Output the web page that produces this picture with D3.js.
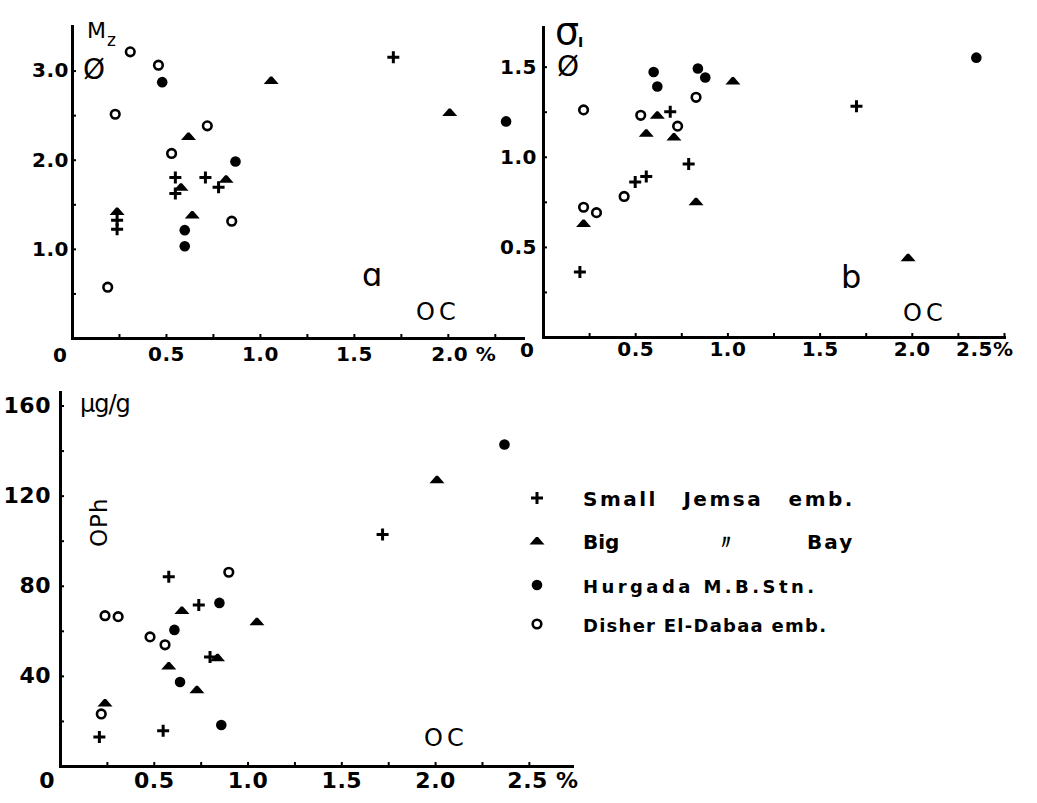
<!DOCTYPE html>
<html>
<head>
<meta charset="utf-8">
<script src="https://cdn.jsdelivr.net/npm/d3@7"></script>
<style>
  body { margin: 0; background: #fff; }
  svg { display: block; }
  text { font-family: "DejaVu Sans", sans-serif; fill: #000; }
</style>
</head>
<body>
<svg id="chart" width="1037" height="803"></svg>
<script>
// ---- data: [organic carbon %, value] ----
// panel a : Mz (phi)
const smallA = [[1.71, 3.15], [0.55, 1.80], [0.71, 1.80], [0.55, 1.62], [0.78, 1.69], [0.24, 1.32], [0.24, 1.22]];
const bigA = [[1.06, 2.89], [2.01, 2.53], [0.62, 2.26], [0.58, 1.69], [0.82, 1.78], [0.24, 1.42], [0.64, 1.38]];
const hurgA = [[0.48, 2.87], [2.31, 2.43], [0.87, 1.98], [0.60, 1.21], [0.60, 1.03]];
const dishA = [[0.31, 3.21], [0.46, 3.06], [0.23, 2.51], [0.72, 2.38], [0.53, 2.07], [0.85, 1.31], [0.19, 0.57]];
// panel b : sigma I (phi)
const smallB = [[0.69, 1.25], [0.79, 0.96], [0.56, 0.89], [0.50, 0.86], [0.20, 0.36], [1.70, 1.28]];
const bigB = [[1.03, 1.42], [0.62, 1.23], [0.56, 1.13], [0.71, 1.11], [0.83, 0.75], [0.22, 0.63], [1.98, 0.44]];
const hurgB = [[0.60, 1.47], [0.62, 1.39], [0.84, 1.49], [0.88, 1.44], [2.35, 1.55]];
const dishB = [[0.83, 1.33], [0.22, 1.26], [0.53, 1.23], [0.73, 1.17], [0.44, 0.78], [0.22, 0.72], [0.29, 0.69]];
// panel c : OPh (ug/g)
const smallC = [[0.58, 84], [0.74, 71.5], [0.80, 48.4], [0.21, 12.9], [0.55, 15.6], [1.72, 102.7]];
const bigC = [[0.65, 69], [1.05, 64], [0.84, 48], [0.58, 44.4], [0.73, 33.8], [0.24, 28], [2.01, 127]];
const hurgC = [[0.85, 72.4], [0.61, 60.4], [0.64, 37.3], [0.86, 18.2], [2.37, 142.7]];
const dishC = [[0.90, 86], [0.24, 66.7], [0.31, 66.3], [0.48, 57.3], [0.56, 53.8], [0.22, 23.1]];

// tick labels
const ocTicksA = [0.5, 1, 1.5, 2];
const ocLabelsA = ['0.5', '1.0', '1.5', '2.0 %'];
const ocTicksBC = [0.5, 1, 1.5, 2, 2.5];
const ocLabelsB = ['0.5', '1.0', '1.5', '2.0', '2.5%'];
const ocLabelsC = ['0.5', '1.0', '1.5', '2.0', '2.5 %'];
const mzTicks = [1, 2, 3];
const mzLabels = ['1.0', '2.0', '3.0'];
const sigTicks = [0.5, 1, 1.5];
const sigLabels = ['0.5', '1.0', '1.5'];
const ophTicks = [40, 80, 120, 160];
const ophLabels = ['40', '80', '120', '160'];

const seriesKeys = ['small', 'big', 'hurg', 'dish'];
const legendLabels = ['Small Jemsa emb.', 'Big', 'Hurgada M.B.Stn.', 'Disher El-Dabaa emb.'];

const svg = d3.select('#chart');

// marker drawers
const markers = {
  small: g => g.append('path').attr('d', 'M-6,0H6M0,-6V6').attr('stroke', '#000').attr('stroke-width', 3).attr('fill', 'none'),
  big: g => g.append('path').attr('d', 'M-7.5,3.5L-1,-4L1,-4L7.5,3.5Z').attr('fill', '#000'),
  hurg: g => g.append('circle').attr('r', 5.3).attr('fill', '#000'),
  dish: g => g.append('circle').attr('r', 4.3).attr('fill', 'none').attr('stroke', '#000').attr('stroke-width', 2.6)
};

function drawPoints(x, y, data, kind) {
  svg.append('g').attr('class', 'pts-' + kind)
    .selectAll('g')
    .data(data)
    .enter()
    .append('g')
    .attr('transform', d => `translate(${x(d[0])},${y(d[1])})`)
    .each(function () { markers[kind](d3.select(this)); });
}

function labelFormat(vals, labels) {
  return d => {
    const i = vals.findIndex(v => Math.abs(v - d) < 1e-9);
    return i < 0 ? '' : labels[i];
  };
}

function drawPanel(o) {
  const x = d3.scaleLinear().domain(o.xDomain).range(o.xRange);
  const y = d3.scaleLinear().domain(o.yDomain).range(o.yRange);

  const gx = svg.append('g')
    .attr('transform', `translate(0,${y(0)})`)
    .call(d3.axisBottom(x)
      .tickValues(o.xMinor)
      .tickSize(-4)
      .tickSizeOuter(0)
      .tickPadding(o.xPad)
      .tickFormat(labelFormat(o.xTicks, o.xLabels)));
  const gy = svg.append('g')
    .attr('transform', `translate(${x(0)},0)`)
    .call(d3.axisLeft(y)
      .tickValues(o.yMinor)
      .tickSize(-4)
      .tickSizeOuter(0)
      .tickPadding(o.yPad)
      .tickFormat(labelFormat(o.yTicks, o.yLabels)));

  [gx, gy].forEach(g => {
    g.attr('font-family', null).attr('font-size', null);
    g.select('.domain').attr('stroke-width', 3).attr('stroke-linecap', 'square');
    g.selectAll('.tick line').attr('stroke-width', 2);
    g.selectAll('.tick text')
      .style('font-family', '"DejaVu Sans", sans-serif')
      .style('font-size', o.fontSize + 'px')
      .style('font-weight', 'bold')
      .style('letter-spacing', '0.5px');
  });
  // the percent label is offset from its tick
  gx.selectAll('.tick text')
    .filter(function () { return this.textContent.indexOf('%') >= 0; })
    .attr('text-anchor', o.pctAnchor)
    .attr('x', o.pctDx);

  // origin label
  svg.append('text')
    .attr('x', o.zero[0]).attr('y', o.zero[1])
    .attr('text-anchor', 'middle')
    .style('font-size', o.fontSize + 'px')
    .style('font-weight', 'bold')
    .text('0');

  seriesKeys.forEach((k, i) => drawPoints(x, y, o.series[i], k));
  return { x, y };
}

// ---- panel a ----
drawPanel({
  xDomain: [0, 2.4], xRange: [72, 523],
  yDomain: [0, 3.5], yRange: [338, 26],
  xMinor: d3.range(0.25, 2.3, 0.25), xTicks: ocTicksA, xLabels: ocLabelsA, xPad: 9,
  yMinor: d3.range(0.5, 3.1, 0.5), yTicks: mzTicks, yLabels: mzLabels, yPad: 3,
  fontSize: 20, pctAnchor: 'start', pctDx: -17, zero: [60, 362],
  series: [smallA, bigA, hurgA, dishA]
});

// ---- panel b ----
drawPanel({
  xDomain: [0, 2.5], xRange: [543, 1004],
  yDomain: [0, 1.72], yRange: [337, 27],
  xMinor: d3.range(0.25, 2.6, 0.25), xTicks: ocTicksBC, xLabels: ocLabelsB, xPad: 5,
  yMinor: d3.range(0.25, 1.6, 0.25), yTicks: sigTicks, yLabels: sigLabels, yPad: 6,
  fontSize: 20, pctAnchor: 'end', pctDx: 9, zero: [527, 357],
  series: [smallB, bigB, hurgB, dishB]
});

// ---- panel c ----
drawPanel({
  xDomain: [0, 2.73], xRange: [60, 572],
  yDomain: [0, 166], yRange: [766, 392],
  xMinor: d3.range(0.25, 2.6, 0.25), xTicks: ocTicksBC, xLabels: ocLabelsC, xPad: 6,
  yMinor: d3.range(20, 161, 20), yTicks: ophTicks, yLabels: ophLabels, yPad: 9,
  fontSize: 22, pctAnchor: 'start', pctDx: -22, zero: [47, 788],
  series: [smallC, bigC, hurgC, dishC]
});

// ---- axis titles and panel letters ----
const t = (x, y, s, size, extra) => {
  const el = svg.append('text').attr('x', x).attr('y', y).style('font-size', size + 'px').text(s);
  if (extra) extra(el);
  return el;
};
t(87, 38, 'M', 22);
t(107, 46, 'z', 17);
t(83, 79, 'Ø', 28);
t(555, 44, 'σ', 38);
t(578, 47, 'I', 14, el => el.style('font-weight', 'bold'));
t(557, 76, 'Ø', 28);
t(80, 412, 'μg/g', 24, el => el.style('letter-spacing', '-1px'));
svg.append('text')
  .attr('transform', 'translate(107,547) rotate(-90)')
  .style('font-size', '23px')
  .style('letter-spacing', '1px')
  .text('OPh');

t(362, 286, 'ɑ', 32);
t(416, 320, 'OC', 24, el => el.style('letter-spacing', '4px'));
t(841, 288, 'b', 32);
t(903, 321, 'OC', 24, el => el.style('letter-spacing', '4px'));
t(424, 746, 'OC', 24, el => el.style('letter-spacing', '4px'));

// ---- legend ----
const legendY = [498, 541, 585, 624];
const legendWidth = [0, 0, 231, 243];
const legendSize = [20, 20, 18, 18];
const legend = svg.append('g').attr('class', 'legend');
seriesKeys.forEach((k, i) => {
  const row = legend.append('g').attr('transform', `translate(537,${legendY[i]})`);
  markers[k](row);
  const txt = row.append('text')
    .attr('x', 46)
    .attr('y', 8)
    .style('font-size', legendSize[i] + 'px')
    .style('font-weight', 'bold')
    .text(legendLabels[i]);
  if (legendWidth[i]) txt.attr('textLength', legendWidth[i]).attr('lengthAdjust', 'spacing');
});
// first row has wide word gaps
legend.select('g text').style('letter-spacing', '2.5px').style('word-spacing', '16px');
// ditto mark and "Bay" on the second row
legend.append('text').attr('x', 716).attr('y', legendY[1] + 8).style('font-size', '20px').style('font-weight', 'bold').text('〃');
legend.append('text').attr('x', 807).attr('y', legendY[1] + 8).style('font-size', '20px').style('font-weight', 'bold').style('letter-spacing', '2px').text('Bay');
</script>
</body>
</html>
